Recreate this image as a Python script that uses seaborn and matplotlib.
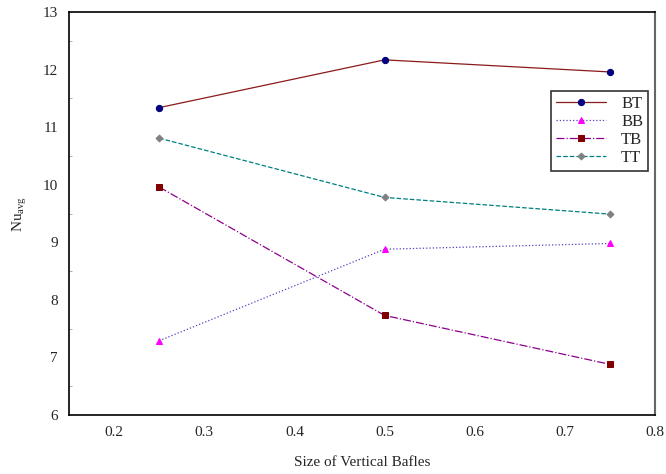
import pandas as pd
import matplotlib.pyplot as plt
import seaborn as sns
from matplotlib.ticker import MultipleLocator

sizes = [0.25, 0.5, 0.75]
bt = [11.34, 12.17, 11.96]
bb = [7.29, 8.88, 8.98]
tb = [9.96, 7.73, 6.88]
tt = [10.81, 9.78, 9.49]

data = pd.DataFrame({'size': sizes, 'BT': bt, 'BB': bb, 'TB': tb, 'TT': tt})

sns.set_style('white')
plt.rcParams['font.family'] = ['Liberation Serif', 'DejaVu Serif']

fig = plt.figure(figsize=(6.66, 4.74), dpi=100)
ax = fig.add_axes([0.1036, 0.1245, 0.88, 0.85])

# stil tiap seri
gaya = {
    'BT': dict(color='#8b1a1a', linestyle='-', marker='o', markersize=4.5,
               markerfacecolor='#000080', markeredgecolor='#000080'),
    'BB': dict(color='#5a3fc0', linestyle=':', marker='^', markersize=4.5,
               markerfacecolor='#ff00ff', markeredgecolor='#ff00ff'),
    'TB': dict(color='#8b008b', linestyle='-.', marker='s', markersize=5,
               markerfacecolor='#800000', markeredgecolor='#800000'),
    'TT': dict(color='#008080', linestyle='--', marker='D', markersize=3.5,
               markerfacecolor='#808080', markeredgecolor='#808080'),
}

for nama in ['BT', 'BB', 'TB', 'TT']:
    sns.lineplot(x='size', y=nama, data=data, ax=ax, label=nama,
                 linewidth=0.9, **gaya[nama])

ax.set_xlim(0.15, 0.8)
ax.set_ylim(6, 13)
ax.yaxis.set_major_locator(MultipleLocator(1))
ax.yaxis.set_minor_locator(MultipleLocator(0.5))
ax.tick_params(axis='both', which='major', direction='in', length=0, labelsize=11, pad=8)
ax.tick_params(axis='y', which='minor', direction='in', length=2, width=0.5, color='#888888', left=True)
ax.set_xticks([0.2, 0.3, 0.4, 0.5, 0.6, 0.7, 0.8])
ax.set_xticklabels(['0.2', '0.3', '0.4', '0.5', '0.6', '0.7', '0.8'])

for s in ax.spines.values():
    s.set_color('black')
    s.set_linewidth(1.2)
ax.spines['right'].set_color('#666666')
ax.spines['right'].set_linewidth(1.5)

ax.set_xlabel('Size of Vertical Bafles', fontsize=11, labelpad=12)
ax.set_ylabel(r'Nu$_{\mathregular{avg}}$', fontsize=11, labelpad=10)

leg = ax.legend(loc='upper right', bbox_to_anchor=(0.988, 0.805), frameon=True,
                fancybox=False, edgecolor='black', fontsize=12, handlelength=3.0,
                borderpad=0.3, labelspacing=0.12, handletextpad=0.9,
                borderaxespad=0)
leg.get_frame().set_linewidth(1.2)

fig.savefig('out.png', dpi=100)
